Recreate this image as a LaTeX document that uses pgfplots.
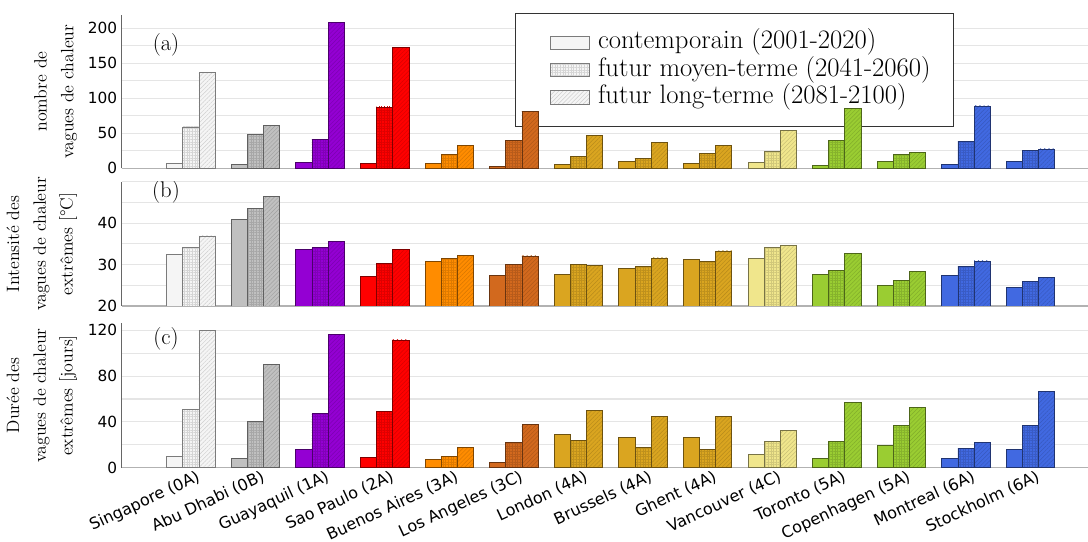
\documentclass[border=0pt]{standalone}
\usepackage{fontspec}
\usepackage{pgfplots}
\pgfplotsset{compat=1.18}
\usetikzlibrary{patterns.meta}
\newfontfamily\dejavu{DejaVu Sans}
\definecolor{cSing}{HTML}{F5F5F5}
\definecolor{cAbu}{HTML}{C0C0C0}
\definecolor{cGuay}{HTML}{9400D3}
\definecolor{cSao}{HTML}{FF0000}
\definecolor{cBA}{HTML}{FF8C00}
\definecolor{cLA}{HTML}{D2691E}
\definecolor{cGold}{HTML}{DAA520}
\definecolor{cKhaki}{HTML}{F0E68C}
\definecolor{cYG}{HTML}{9ACD32}
\definecolor{cBlue}{HTML}{4169E1}
\pgfplotsset{
  lgimg/.style={legend image code/.code={\path (-10pt,0pt); \draw[##1] (0pt,-4.9pt) rectangle (29.25pt,4.9pt); \path (34.5pt,0pt);}},
  b1/.style={ybar, bar width=0.25, bar shift=-0.25, fill=#1, draw=#1!50!black, line width=0.5pt, lgimg},
  b2/.style={ybar, bar width=0.25, bar shift=0, fill=#1, draw=#1!50!black, line width=0.5pt, lgimg,
     postaction={pattern={Hatch[angle=0,distance=2pt,line width=0.25pt]}, pattern color=#1!87!black}},
  b3/.style={ybar, bar width=0.25, bar shift=0.25, fill=#1, draw=#1!50!black, line width=0.5pt, lgimg,
     postaction={pattern={Lines[angle=45,distance=2.2pt,line width=0.35pt]}, pattern color=#1!84!black}},
  geom/.style={scale only axis, width=724.7pt, anchor=south west,
     xmin=-1.07, xmax=13.89, clip=true},
  common/.style={geom,
     axis x line*=bottom, axis y line*=left, axis line style={-},
     x axis line style={black!30, line width=0.8pt},
     y axis line style={black!60, line width=0.6pt},
     xtick={0,...,13}, major tick length=0pt, minor tick length=0pt,
     ymajorgrids, yminorgrids,
     major grid style={black!10, line width=0.8pt},
     minor grid style={black!10, line width=0.8pt},
     yticklabel style={font=\dejavu\fontsize{11.5}{13}\selectfont},
     xticklabel style={font=\dejavu\fontsize{12}{14}\selectfont},
     /pgf/number format/assume math mode=true,
     ylabel style={at={(axis description cs:-0.046,0.5)}, anchor=south, align=center, inner sep=0pt,
        font=\fontsize{13.4}{20}\selectfont}},
  pa/.style={geom, at={(91.3pt,280.3pt)}, height=115pt, ymin=0, ymax=219},
  pb/.style={geom, at={(91.3pt,177pt)}, height=93.2pt, ymin=20, ymax=50},
  pc/.style={geom, at={(91.3pt,55.7pt)}, height=108.3pt, ymin=0, ymax=126},
}
\newcommand\grp[5]{%
  \addplot[b1=#2] coordinates {(#1,#3)};
  \addplot[b2=#2] coordinates {(#1,#4)};
  \addplot[b3=#2] coordinates {(#1,#5)};}
\begin{document}
\begin{tikzpicture}
\useasboundingbox (0,0) rectangle (816pt,406.5pt);
% ---------------- (a) frame and grid
\begin{axis}[pa, common, ytick={0,50,100,150,200}, minor ytick={25,75,125,175},
  xticklabels={}, ylabel={nombre de\\vagues de chaleur}]
\node[font=\fontsize{17}{20}\selectfont] at (rel axis cs:0.0458,0.804) {(a)};
\end{axis}
% ---------------- (a) legend, beneath the bars
\begin{axis}[pa, hide axis,
  legend style={at={(0.407,1.013)}, anchor=north west, draw=black!80, line width=0.6pt,
    fill=white, font=\fontsize{20}{22}\selectfont, inner xsep=16pt, inner ysep=11.5pt, row sep=0pt,
    nodes={inner sep=1pt, text height=14pt, text depth=4.6pt},
    cells={anchor=west}}]
\addlegendimage{b1=cSing}
\addlegendimage{b2=cSing}
\addlegendimage{b3=cSing}
\legend{contemporain (2001-2020), futur moyen-terme (2041-2060), futur long-terme (2081-2100)}
\end{axis}
% ---------------- (a) bars
\begin{axis}[pa, hide axis]
\grp{0}{cSing}{7.5}{59}{137}
\grp{1}{cAbu}{5.7}{48}{61.6}
\grp{2}{cGuay}{8.5}{40.8}{208}
\grp{3}{cSao}{7.5}{87.7}{172.5}
\grp{4}{cBA}{6.6}{19.4}{32.2}
\grp{5}{cLA}{3.3}{40}{81}
\grp{6}{cGold}{6}{17}{47}
\grp{7}{cGold}{9.5}{14}{37}
\grp{8}{cGold}{7.6}{21}{33}
\grp{9}{cKhaki}{8}{24}{54}
\grp{10}{cYG}{4}{40}{85}
\grp{11}{cYG}{10}{20}{23}
\grp{12}{cBlue}{5}{38.6}{89}
\grp{13}{cBlue}{9.5}{25}{27.6}
\end{axis}
% ---------------- (b)
\begin{axis}[pb, common, ytick={20,30,40}, minor ytick={25,35,45,50},
  xticklabels={},
  ylabel={Intensité des\\vagues de chaleur\\extrêmes [°C]}]
\grp{0}{cSing}{32.5}{34.2}{36.9}
\grp{1}{cAbu}{41.0}{43.6}{46.5}
\grp{2}{cGuay}{33.6}{34.2}{35.6}
\grp{3}{cSao}{27.1}{30.2}{33.6}
\grp{4}{cBA}{30.7}{31.5}{32.2}
\grp{5}{cLA}{27.3}{30.0}{32.1}
\grp{6}{cGold}{27.6}{30.1}{29.8}
\grp{7}{cGold}{29.0}{29.5}{31.6}
\grp{8}{cGold}{31.2}{30.9}{33.3}
\grp{9}{cKhaki}{31.5}{34.2}{34.7}
\grp{10}{cYG}{27.6}{28.6}{32.7}
\grp{11}{cYG}{24.9}{26.1}{28.4}
\grp{12}{cBlue}{27.3}{29.5}{30.9}
\grp{13}{cBlue}{24.5}{26.0}{26.9}
\node[font=\fontsize{17}{20}\selectfont] at (rel axis cs:0.0458,0.917) {(b)};
\end{axis}
% ---------------- (c)
\begin{axis}[pc, common, ytick={0,40,80,120}, minor ytick={20,60,100},
  xticklabels={Singapore (0A), Abu Dhabi (0B), Guayaquil (1A), Sao Paulo (2A), Buenos Aires (3A), Los Angeles (3C), London (4A), Brussels (4A), Ghent (4A), Vancouver (4C), Toronto (5A), Copenhagen (5A), Montreal (6A), Stockholm (6A)},
  xticklabel style={rotate=25, anchor=north east, inner sep=1pt, xshift=4pt, yshift=-1.5pt},
  ylabel={Durée des\\vagues de chaleur\\extrêmes [jours]}]
\grp{0}{cSing}{9.9}{50.9}{120}
\grp{1}{cAbu}{7.8}{40.7}{90.1}
\grp{2}{cGuay}{15.7}{47.7}{116}
\grp{3}{cSao}{9.0}{48.8}{111.6}
\grp{4}{cBA}{7.0}{9.9}{17.7}
\grp{5}{cLA}{4.9}{21.8}{37.8}
\grp{6}{cGold}{29.1}{23.8}{50}
\grp{7}{cGold}{26.2}{17.7}{45}
\grp{8}{cGold}{26.7}{15.7}{45}
\grp{9}{cKhaki}{11.6}{22.7}{32.8}
\grp{10}{cYG}{7.8}{22.7}{56.7}
\grp{11}{cYG}{19.8}{36.9}{52.9}
\grp{12}{cBlue}{7.8}{16.9}{21.8}
\grp{13}{cBlue}{15.7}{36.9}{66.6}
\node[font=\fontsize{17}{20}\selectfont] at (rel axis cs:0.0458,0.891) {(c)};
\end{axis}
\end{tikzpicture}
\end{document}
